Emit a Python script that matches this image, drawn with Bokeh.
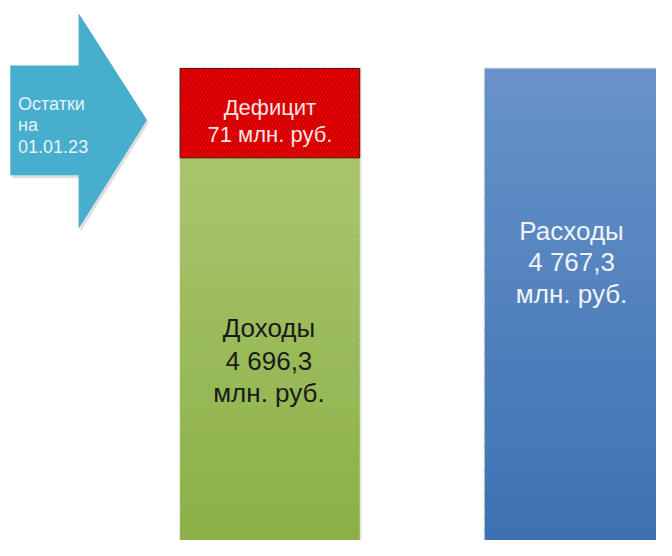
import numpy as np
from bokeh.plotting import figure
from bokeh.models import Range1d, ColumnDataSource
from bokeh.core.properties import value
from bokeh.embed import file_html
from bokeh.resources import INLINE

# ---- data ----
balance_label = ["Остатки", "на", "01.01.23"]
deficit_value = 71
income_value = 4696.3
expense_value = 4767.3

def fmt(v):
    return f"{v:,.1f}".replace(",", " ").replace(".", ",")

deficit_lines = ["Дефицит", f"{deficit_value} млн. руб."]
income_lines = ["Доходы", fmt(income_value), "млн. руб."]
expense_lines = ["Расходы", fmt(expense_value), "млн. руб."]

FONT = value("Liberation Sans")

# figure in reference-pixel coordinates (y downward)
p = figure(width=656, height=540, output_backend="svg", toolbar_location=None,
           x_range=Range1d(0, 672), y_range=Range1d(556, 0),
           min_border=0, background_fill_color="white", border_fill_color="white")
p.axis.visible = False
p.grid.visible = False
p.outline_line_color = None

# layout (pixels)
TOP = 70
DEF_BOTTOM = 162
BOTTOM = 600
L1, R1 = 184, 368
L2, R2 = 496, 700

def hex2rgb(h):
    h = h.lstrip("#")
    return np.array([int(h[i:i + 2], 16) for i in (0, 2, 4)], dtype=float)

def gradient_quad(left, right, top, bottom, c_top, c_bot, n=40):
    edges = np.linspace(top, bottom, n + 1)
    a, b = hex2rgb(c_top), hex2rgb(c_bot)
    cols = []
    for i in range(n):
        t = i / (n - 1)
        c = a + (b - a) * t
        cols.append("#%02x%02x%02x" % tuple(int(round(v)) for v in c))
    p.quad(left=[left] * n, right=[right] * n, top=edges[:-1], bottom=edges[1:] + 2,
           fill_color=cols, line_color=None)

# arrow shadow + arrow
ax = [10, 80, 80, 150, 80, 80, 10]
ay = [67, 67, 13, 123, 235, 180, 180]
p.patch([x + 2 for x in ax], [y + 3 for y in ay], fill_color="#000000", fill_alpha=0.13, line_color=None)
p.patch(ax, ay, fill_color="#47aecd", line_color=None)

# bar shadows
p.quad(left=[L1 - 1, L2 - 1], right=[R1 + 2, R2], top=[TOP - 1, TOP - 1], bottom=[BOTTOM, BOTTOM],
       fill_color="#000000", fill_alpha=0.10, line_color=None)

# income bar (green)
gradient_quad(L1, R1, DEF_BOTTOM, 556, "#a8c56c", "#8cb048")
# deficit block (red hatched)
p.quad(left=[L1], right=[R1], top=[TOP], bottom=[DEF_BOTTOM], fill_color="#ff0000",
       hatch_pattern="\\", hatch_color="#c00000", hatch_scale=6, hatch_weight=1.6, hatch_alpha=1.0,
       line_color="#5a1010", line_width=1)
# expense bar (blue)
gradient_quad(L2, R2, TOP, 556, "#6892c9", "#3c72b2")

def lines(xs, ys, texts, color, size, align="center"):
    src = ColumnDataSource(dict(x=xs, y=ys, t=texts))
    p.text(x="x", y="y", text="t", source=src, text_font=FONT, text_font_size=size,
           text_color=color, text_align=align, text_baseline="alphabetic")

lines([18] * 3, [107, 128, 150], balance_label, "#e6f3f8", "18px", align="left")
lines([276] * 2, [110, 138], deficit_lines, "#fbe4e4", "22px")
lines([275] * 3, [337, 371, 404], income_lines, "#1a1a1a", "26px")
lines([585] * 3, [237, 269, 302], expense_lines, "#f2f4f8", "26px")

open("out.html", "w").write(file_html(p, INLINE))
